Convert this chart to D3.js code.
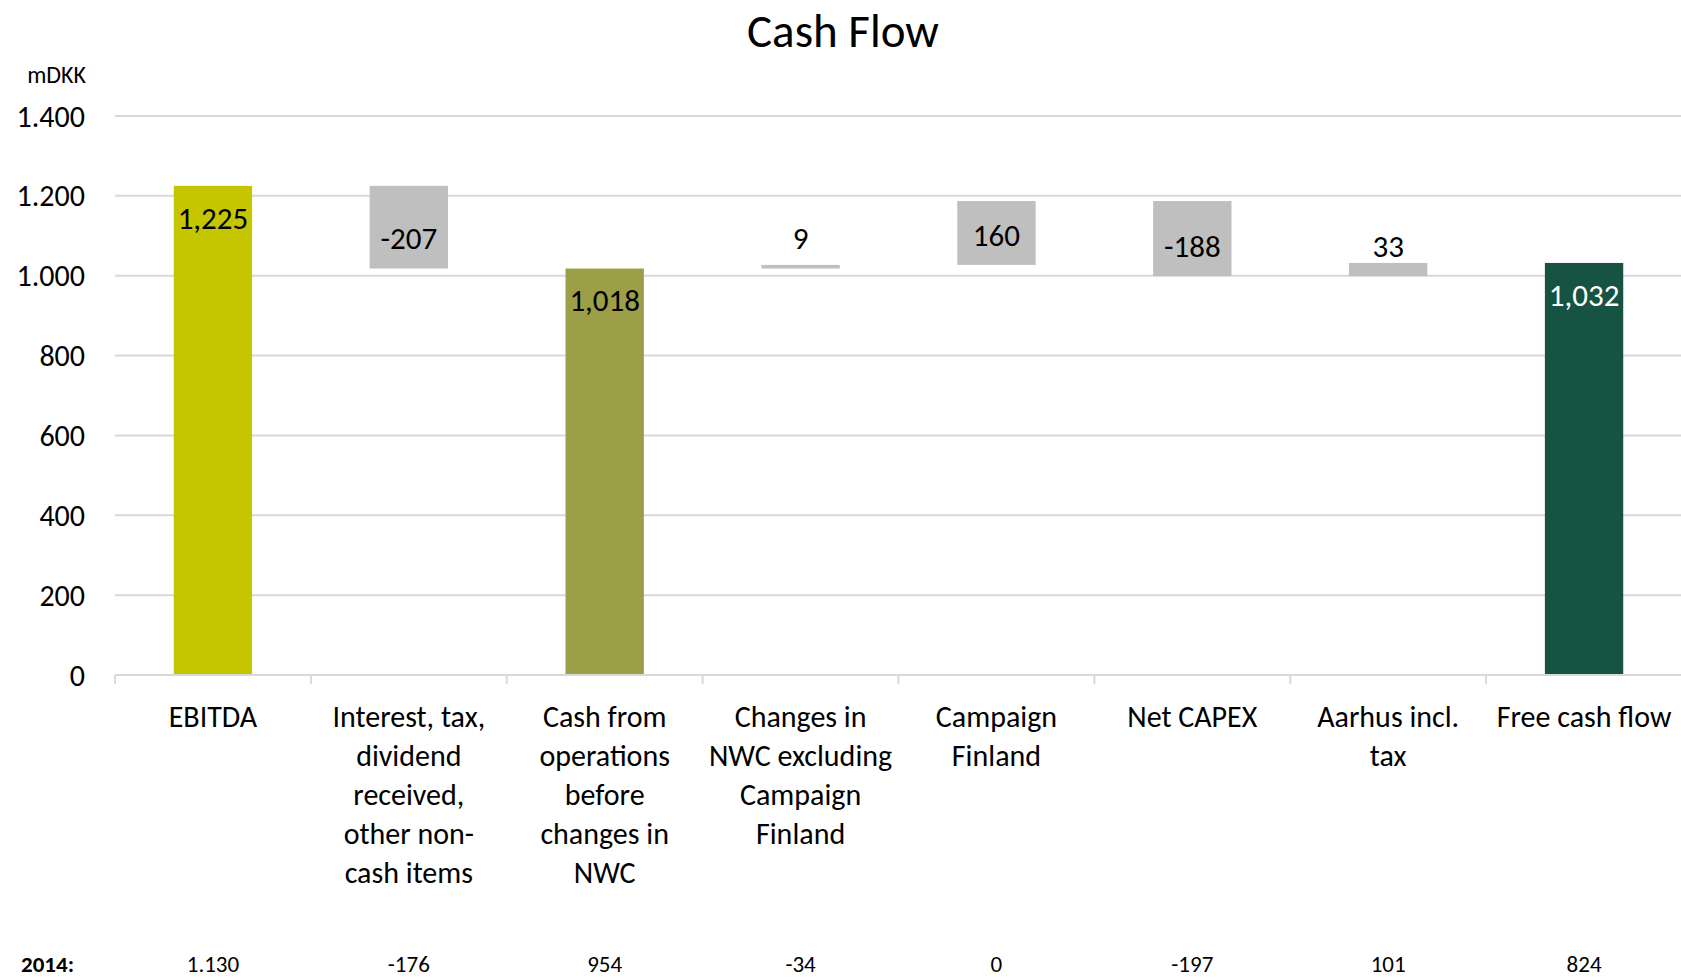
<!DOCTYPE html>
<html>
<head>
<meta charset="utf-8">
<script src="https://cdn.jsdelivr.net/npm/d3@7"></script>
<style>
  body { margin: 0; background: #fff; }
  svg text { font-family: Carlito, Calibri, Lato, sans-serif; fill: #000; }
</style>
</head>
<body>
<div id="chart"></div>
<script>
// waterfall data
var categories = ["EBITDA", "Interest", "CashOps", "NWC", "Campaign", "Capex", "Aarhus", "FCF"];
var catLabels = [
  ["EBITDA"],
  ["Interest, tax,", "dividend", "received,", "other non-", "cash items"],
  ["Cash from", "operations", "before", "changes in", "NWC"],
  ["Changes in", "NWC excluding", "Campaign", "Finland"],
  ["Campaign", "Finland"],
  ["Net CAPEX"],
  ["Aarhus incl.", "tax"],
  ["Free cash flow"]
];
var values = [1225, -207, 1018, 9, 160, -188, 33, 1032];
var kinds = ["total", "delta", "total", "delta", "delta", "delta", "delta", "total"];
var values2014 = ["1.130", "-176", "954", "-34", "0", "-197", "101", "824"];
var yTicks = [0, 200, 400, 600, 800, 1000, 1200, 1400];

var W = 1681, H = 979;
var colors = { EBITDA: "#c5c500", CashOps: "#9c9f47", FCF: "#165342" };
var grey = "#bfbfbf";

// build start/end for each bar
var run = 0;
var bars = categories.map(function(c, i) {
  var d = { cat: c, v: values[i], kind: kinds[i] };
  if (d.kind == "total") { d.y0 = 0; d.y1 = d.v; run = d.v; }
  else { d.y0 = run; d.y1 = run + d.v; run = d.y1; }
  return d;
});

var svg = d3.select("#chart").append("svg")
  .attr("width", W).attr("height", H);

var x = d3.scaleBand()
  .domain(categories)
  .range([115, 1682])
  .paddingInner(0.6)
  .paddingOuter(0.3);

var y = d3.scaleLinear()
  .domain([0, 1400])
  .range([675, 116]);

var dot = d3.formatLocale({ decimal: ",", thousands: ".", grouping: [3], currency: ["", ""], minus: "-" }).format(",");
var comma = d3.formatLocale({ decimal: ".", thousands: ",", grouping: [3], currency: ["", ""], minus: "-" }).format(",");

// gridlines
svg.append("g").selectAll("line")
  .data(yTicks.slice(1))
  .enter().append("line")
  .attr("x1", 115).attr("x2", W)
  .attr("y1", function(d) { return y(d); })
  .attr("y2", function(d) { return y(d); })
  .style("stroke", "#d9d9d9")
  .style("stroke-width", "2px");

// y labels
svg.append("g").selectAll("text")
  .data(yTicks)
  .enter().append("text")
  .attr("x", 85)
  .attr("y", function(d) { return y(d); })
  .attr("dy", "0.35em")
  .attr("text-anchor", "end")
  .style("font-size", "30px")
  .text(function(d) { return dot(d); });

svg.append("text")
  .attr("x", 86).attr("y", 83)
  .attr("text-anchor", "end")
  .style("font-size", "24px")
  .text("mDKK");

// bars
svg.append("g").selectAll("rect")
  .data(bars)
  .enter().append("rect")
  .attr("x", function(d) { return x(d.cat); })
  .attr("width", x.bandwidth())
  .attr("y", function(d) { return y(Math.max(d.y0, d.y1)); })
  .attr("height", function(d) { return Math.max(3, Math.abs(y(d.y0) - y(d.y1))); })
  .style("fill", function(d) { return d.kind == "total" ? colors[d.cat] : grey; });

// x axis line + ticks
svg.append("line")
  .attr("x1", 115).attr("x2", W)
  .attr("y1", y(0)).attr("y2", y(0))
  .style("stroke", "#d9d9d9").style("stroke-width", "2px");

var step = x.step();
svg.append("g").selectAll("line")
  .data(d3.range(categories.length + 1))
  .enter().append("line")
  .attr("x1", function(i) { return 115 + i * step; })
  .attr("x2", function(i) { return 115 + i * step; })
  .attr("y1", y(0)).attr("y2", y(0) + 9)
  .style("stroke", "#d9d9d9").style("stroke-width", "2px");

// value labels
svg.append("g").selectAll("text")
  .data(bars)
  .enter().append("text")
  .attr("x", function(d) { return x(d.cat) + x.bandwidth() / 2; })
  .attr("y", function(d) {
    if (d.kind == "total") return y(d.v) + 32;
    return y(Math.min(d.y0, d.y1) + 75);
  })
  .attr("dy", "0.35em")
  .attr("text-anchor", "middle")
  .style("font-size", "31px")
  .style("fill", function(d) { return d.cat == "FCF" ? "#fff" : "#000"; })
  .text(function(d) { return comma(d.v); });

// category labels
var cl = svg.append("g").selectAll("text")
  .data(categories)
  .enter().append("text")
  .attr("text-anchor", "middle")
  .style("font-size", "30px")
  .attr("transform", function(c) { return "translate(" + (x(c) + x.bandwidth() / 2) + ",0)"; });
cl.selectAll("tspan")
  .data(function(c, i) { return catLabels[i]; })
  .enter().append("tspan")
  .attr("x", 0)
  .attr("y", function(t, j) { return 716 + j * 39; })
  .attr("dy", "0.35em")
  .text(function(t) { return t; });

// 2014 row
svg.append("text")
  .attr("x", 21).attr("y", 972)
  .style("font-size", "23px").style("font-weight", "bold")
  .text("2014:");
svg.append("g").selectAll("text")
  .data(categories)
  .enter().append("text")
  .attr("x", function(c) { return x(c) + x.bandwidth() / 2; })
  .attr("y", 972)
  .attr("text-anchor", "middle")
  .style("font-size", "23px")
  .text(function(c, i) { return values2014[i]; });

// title
svg.append("text")
  .attr("x", 843).attr("y", 47)
  .attr("text-anchor", "middle")
  .style("font-size", "47px")
  .text("Cash Flow");
</script>
</body>
</html>
